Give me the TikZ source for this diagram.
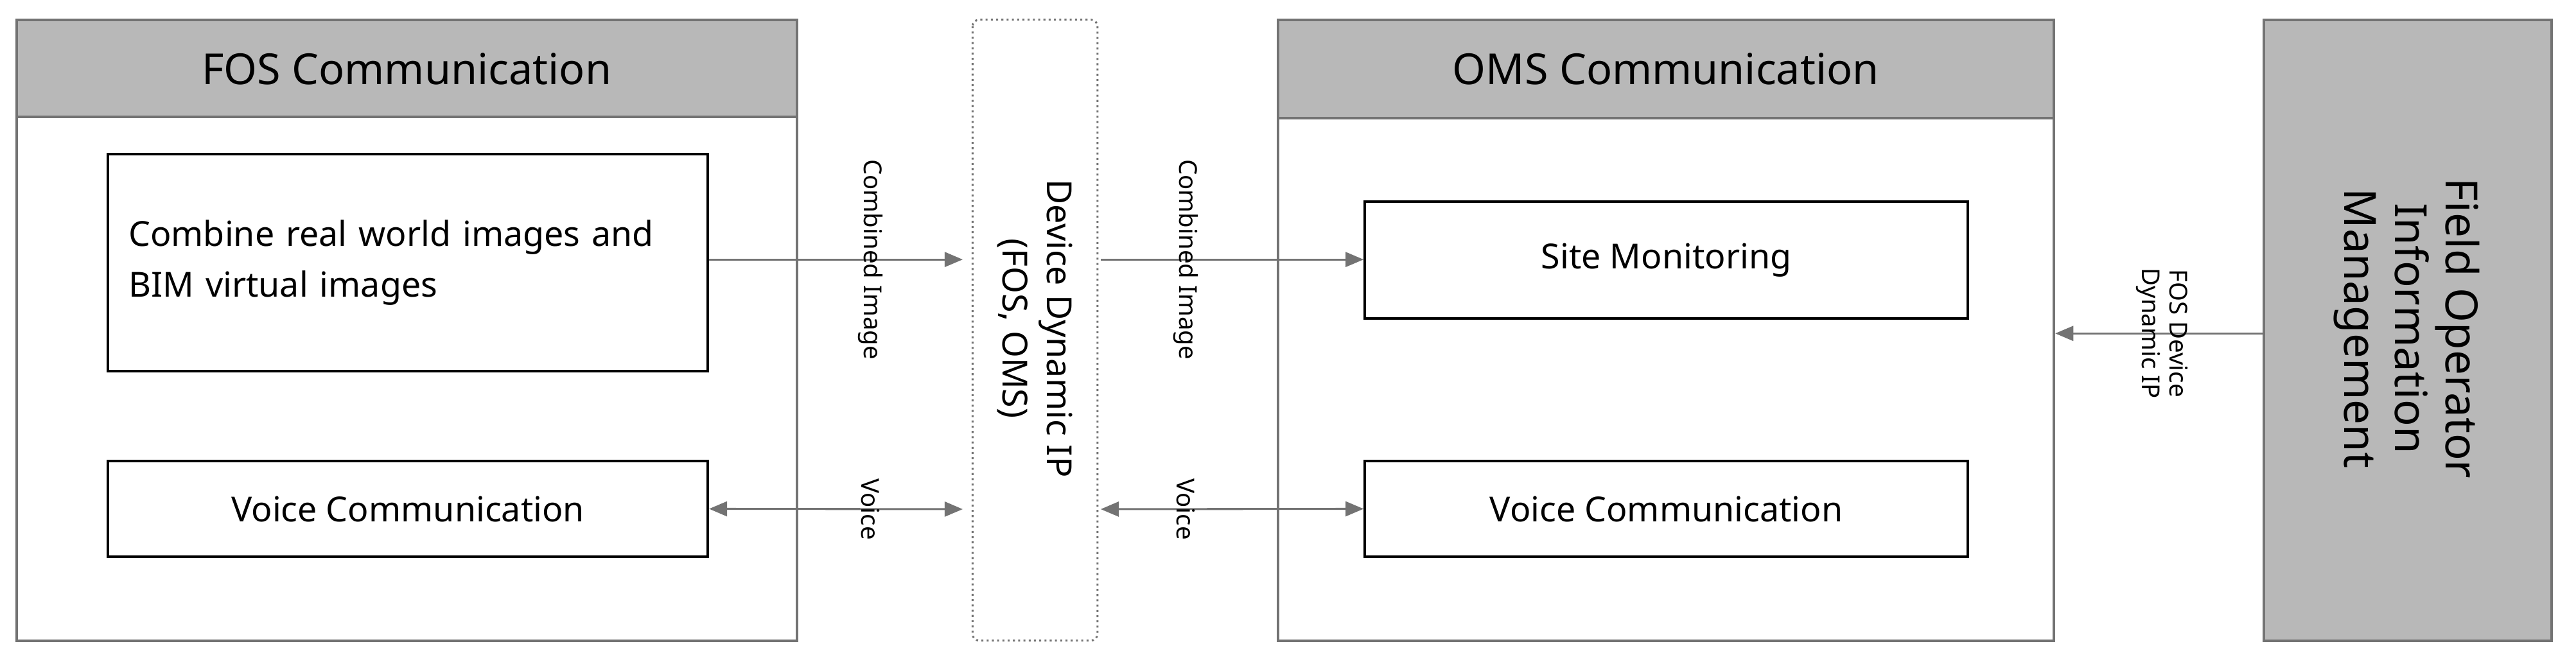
\documentclass[tikz,border=0pt]{standalone}
\usepackage{fontspec}
\setmainfont{Noto Sans}
\usetikzlibrary{arrows.meta}
\begin{document}
\begin{tikzpicture}[x=1pt,y=-1pt,
 outer/.style={draw=black!55,line width=1.6pt},
 hdr/.style={fill=black!28,draw=black!55,line width=1.6pt},
 inbox/.style={draw=black,line width=1.6pt,fill=white},
 arr/.style={draw=black!55,line width=1.2pt,-{Triangle[length=11pt,width=9pt]}},
 darr/.style={draw=black!55,line width=1.2pt,{Triangle[length=11pt,width=9pt]}-{Triangle[length=11pt,width=9pt]}},
 lab/.style={rotate=-90,font=\fontsize{15}{17}\selectfont,inner sep=1pt}]
\useasboundingbox (0,0) rectangle (1568,403);
% FOS
\draw[outer] (10,12) rectangle (485,390);
\draw[hdr] (10,12) rectangle (485,71);
\node (fosh) at (247.5,42) {\fontsize{26}{30}\selectfont FOS Communication};
\node[inbox,minimum width=365pt,minimum height=132pt,text width=340pt,align=left,anchor=north west,font=\fontsize{21}{31}\selectfont] (comb) at (65,93) {Combine real world images and BIM virtual images};
\node[inbox,minimum width=365pt,minimum height=58pt,anchor=north west,font=\fontsize{21}{25}\selectfont] (fv) at (65,280) {Voice Communication};
% middle
\draw[black!55,line width=1.2pt,dotted,rounded corners=4pt] (592,12) rectangle (668,390);
\node[rotate=-90,align=center,font=\fontsize{21}{27}\selectfont] (dev) at (630,200) {Device Dynamic IP\\(FOS, OMS)};
\coordinate (ml1) at (586,158); \coordinate (mr1) at (670,158);
\coordinate (ml2) at (586,310); \coordinate (mr2) at (670,310);
% OMS
\draw[outer] (778,12) rectangle (1250,390);
\draw[hdr] (778,12) rectangle (1250,72);
\node (omsh) at (1014,42) {\fontsize{26}{30}\selectfont OMS Communication};
\node[inbox,minimum width=367pt,minimum height=71pt,anchor=north west,font=\fontsize{21}{25}\selectfont] (site) at (830,122) {Site Monitoring};
\node[inbox,minimum width=367pt,minimum height=58pt,anchor=north west,font=\fontsize{21}{25}\selectfont] (ov) at (830,280) {Voice Communication};
% Field
\draw[hdr] (1378,12) rectangle (1553,390);
\node[rotate=-90,align=center,font=\fontsize{27}{31}\selectfont] (field) at (1465,200) {Field Operator\\Information\\Management};
\coordinate (fl) at (1378,203); \coordinate (oe) at (1251,203);
% arrows
\draw[arr] (comb.east |- ml1) -- (ml1);
\draw[arr] (mr1) -- (site.west |- mr1);
\draw[darr] (fv.east) -- (ml2);
\draw[darr] (mr2) -- (ov.west);
\draw[arr] (fl) -- (oe);
% labels
\node[lab] (l1) at (530,158) {Combined Image};
\node[lab] (l2) at (722,158) {Combined Image};
\node[lab] (l3) at (530,310) {Voice};
\node[lab] (l4) at (722,310) {Voice};
\node[lab,align=center] (l5) at (1316,203) {FOS Device\\Dynamic IP};
\end{tikzpicture}
\end{document}
